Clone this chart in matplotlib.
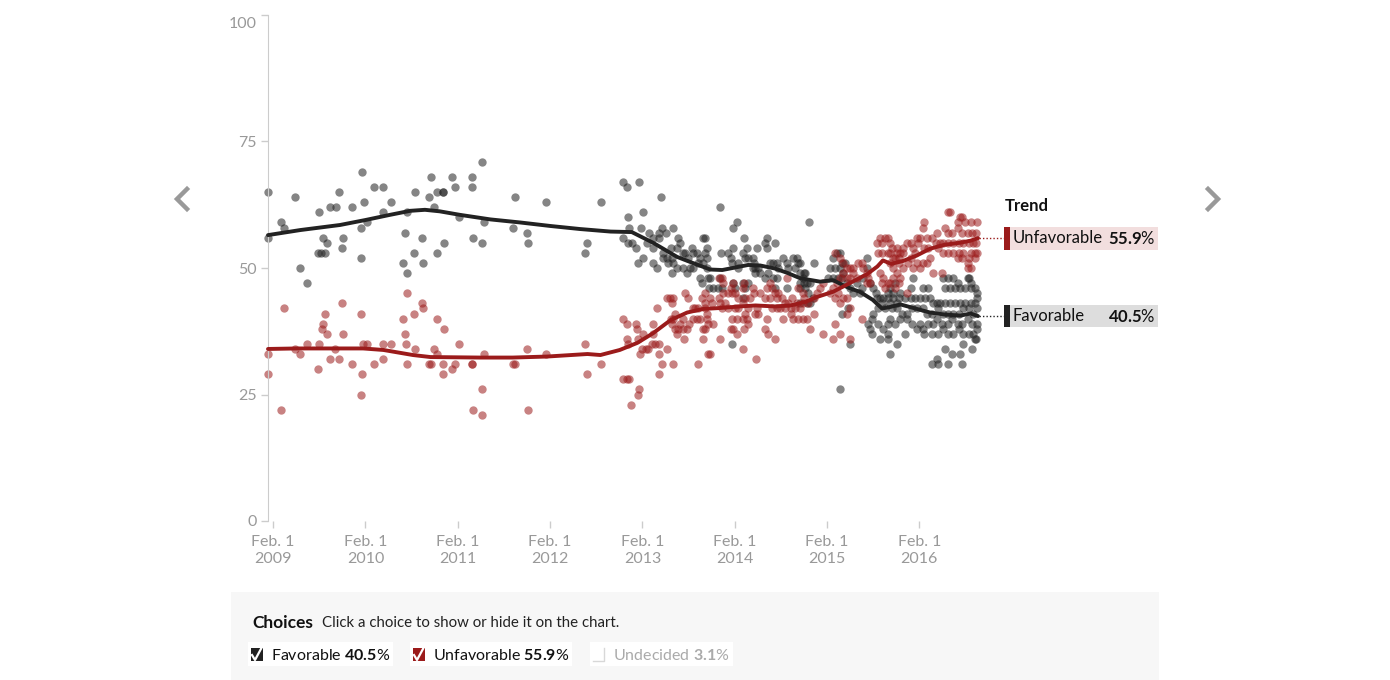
import matplotlib as mpl
mpl.use('Agg')
import matplotlib.pyplot as plt
import matplotlib.transforms as mtransforms
from matplotlib.lines import Line2D
from matplotlib.patches import Rectangle

W, H = 1390, 680
FONT = 'Lato'

mpl.rcParams.update({
    'font.family': FONT,
    'mathtext.fontset': 'custom',
    'mathtext.rm': 'Lato',
    'mathtext.bf': 'Lato:bold',
})

FAV_COLOR = '#222222'
UNFAV_COLOR = '#9b1b1b'
TICK_COLOR = '#999999'

# poll results, decimal year of field date and percent
FAV_DATE = [
    2009.03, 2009.03, 2009.17, 2009.20, 2009.32, 2009.38, 2009.45, 2009.58, 2009.57, 2009.60,
    2009.65, 2009.63, 2009.67, 2009.70, 2009.77, 2009.80, 2009.83, 2009.84, 2009.94, 2010.05,
    2010.04, 2010.04, 2010.07, 2010.10, 2010.18, 2010.28, 2010.28, 2010.36, 2010.49, 2010.51,
    2010.54, 2010.54, 2010.61, 2010.62, 2010.70, 2010.71, 2010.77, 2010.80, 2010.83, 2010.86,
    2010.93, 2010.93, 2010.86, 2010.94, 2011.02, 2011.05, 2011.10, 2011.24, 2011.24, 2011.25,
    2011.35, 2011.35, 2011.37, 2011.68, 2011.70, 2011.84, 2011.85, 2012.04, 2012.46, 2012.49,
    2012.64,
    2012.88, 2012.92, 2013.05, 2013.29, 2012.93, 2013.09, 2012.94, 2012.88, 2012.93, 2012.97,
    2013.07, 2013.02, 2013.13, 2013.16, 2013.20, 2013.20, 2013.27, 2013.30, 2013.34, 2013.42,
    2013.27, 2013.09, 2013.04, 2013.20, 2013.24, 2013.31, 2013.35, 2013.41, 2013.36, 2013.42,
    2013.31, 2013.39, 2013.47, 2013.49, 2013.46, 2013.52, 2013.55, 2013.58, 2013.62, 2013.63,
    2013.68, 2013.71, 2013.74, 2013.76, 2013.79, 2013.79, 2013.69, 2013.63, 2013.60, 2013.57,
    2013.53, 2013.46, 2013.41, 2013.71, 2013.73, 2013.80, 2013.81, 2013.74,
    2013.93, 2014.11, 2014.07, 2014.19, 2014.43, 2014.41, 2014.44, 2014.52, 2014.33, 2014.22,
    2013.76, 2013.94, 2014.01, 2014.07, 2014.04, 2014.06, 2014.12, 2014.18, 2014.20, 2014.23,
    2014.28, 2014.29, 2014.12, 2014.28, 2014.31, 2014.34, 2014.36, 2014.31, 2014.45, 2014.47,
    2014.50, 2014.54, 2014.55, 2014.61, 2014.65, 2014.66, 2014.72, 2014.76, 2014.77, 2014.74,
    2014.79, 2014.83, 2014.82, 2014.79, 2014.65, 2014.52, 2014.54, 2014.50, 2014.41, 2014.23,
    2014.20, 2014.17, 2014.09, 2014.07, 2013.93, 2013.95, 2013.85, 2013.82, 2013.79, 2013.90,
    2014.17, 2014.06,
    2014.89, 2015.23, 2014.79, 2014.85, 2014.94, 2014.83, 2014.87, 2014.90, 2014.79, 2014.85,
    2014.88, 2014.90, 2014.79, 2015.15, 2015.19, 2015.23, 2015.25, 2015.28, 2015.12, 2015.17,
    2015.23, 2015.10, 2015.15, 2015.20, 2015.25, 2015.26, 2015.30, 2015.33, 2015.37, 2015.41,
    2015.44, 2015.46, 2015.52, 2015.52, 2015.47, 2015.55, 2015.58, 2015.61, 2015.63, 2015.66,
    2015.69, 2015.74, 2015.75, 2015.77, 2015.80, 2015.84, 2015.86, 2015.88, 2015.68, 2015.71,
    2015.64, 2015.58, 2015.57, 2015.53, 2015.55, 2015.57, 2015.64, 2015.69, 2015.74, 2015.75,
    2015.66, 2015.75, 2015.84, 2015.77, 2015.33, 2015.25, 2015.31, 2014.87, 2014.93,
    2016.34, 2016.40, 2016.45, 2016.50, 2016.61, 2016.69, 2016.36, 2016.42, 2016.47, 2016.53,
    2016.58, 2016.64, 2016.71, 2016.71, 2016.18, 2016.12, 2015.99, 2016.02, 2015.82, 2015.77,
    2015.80, 2015.93, 2015.99, 2016.04, 2016.09, 2016.15, 2016.20, 2016.23, 2016.28, 2016.31,
    2016.36, 2016.42, 2016.47, 2016.53, 2016.58, 2016.64, 2016.69, 2016.71, 2016.67, 2016.62,
    2016.56, 2016.51, 2016.45, 2016.40, 2016.34, 2016.29, 2016.22, 2016.17, 2016.12, 2016.06,
    2016.01, 2015.95, 2015.90, 2015.84, 2015.79, 2015.77, 2015.82, 2015.88, 2015.95, 2016.01,
    2016.06, 2016.12, 2016.13, 2016.09, 2016.18, 2016.23, 2016.28, 2016.33, 2016.39, 2016.44,
    2016.50, 2016.55, 2016.61, 2016.66, 2016.71, 2016.71, 2016.67, 2016.62, 2016.56, 2016.51,
    2016.45, 2016.40, 2016.34, 2016.29, 2016.22, 2016.69, 2016.70, 2016.66, 2016.56, 2016.53,
    2016.44, 2016.36, 2016.28, 2016.29, 2016.22, 2016.39, 2016.55, 2015.93, 2016.62, 2016.64,
]
FAV_VALUE = [
    65, 56, 59, 58, 64, 50, 47, 61, 53, 53,
    53, 56, 55, 62, 62, 65, 54, 56, 62, 69,
    58, 52, 63, 59, 66, 66, 61, 63, 51, 57,
    61, 49, 53, 65, 56, 51, 64, 68, 62, 65,
    65, 65, 53, 55, 68, 66, 60, 68, 66, 56,
    71, 55, 59, 58, 64, 57, 55, 63, 53, 55,
    63,
    67, 66, 67, 64, 60, 61, 58, 56, 55, 55,
    58, 54, 55, 57, 56, 54, 57, 58, 57, 58,
    56, 52, 51, 51, 50, 52, 52, 52, 51, 51,
    53, 54, 56, 55, 54, 53, 53, 52, 54, 53,
    53, 52, 56, 56, 54, 52, 51, 50, 50, 49,
    50, 50, 49, 48, 47, 48, 46, 51,
    62, 59, 58, 56, 56, 55, 54, 55, 54, 54,
    53, 53, 53, 54, 52, 51, 51, 53, 52, 52,
    52, 51, 50, 50, 50, 50, 49, 49, 49, 51,
    51, 51, 50, 52, 51, 50, 52, 52, 51, 50,
    49, 49, 48, 47, 46, 46, 48, 48, 48, 47,
    46, 47, 46, 47, 48, 46, 46, 48, 50, 46,
    44, 35,
    59, 26, 51, 49, 51, 47, 47, 47, 46, 46,
    45, 43, 43, 52, 53, 53, 51, 51, 50, 50,
    50, 48, 48, 48, 48, 49, 47, 46, 45, 47,
    45, 46, 52, 50, 48, 47, 46, 45, 44, 44,
    44, 45, 44, 43, 44, 43, 44, 45, 43, 42,
    42, 41, 40, 39, 38, 37, 39, 38, 39, 37,
    36, 36, 35, 33, 35, 41, 42, 43, 44,
    48, 48, 48, 47, 48, 46, 46, 46, 46, 46,
    46, 46, 45, 44, 46, 46, 46, 48, 47, 46,
    45, 44, 44, 44, 44, 44, 44, 43, 43, 43,
    43, 43, 43, 43, 43, 43, 43, 42, 41, 42,
    42, 41, 41, 41, 41, 42, 41, 41, 42, 42,
    42, 41, 41, 42, 42, 40, 39, 40, 40, 39,
    38, 38, 37, 39, 39, 39, 40, 39, 39, 40,
    39, 39, 40, 39, 39, 38, 37, 37, 37, 38,
    37, 37, 38, 37, 37, 36, 36, 34, 35, 33,
    33, 34, 32, 31, 31, 31, 31, 37, 48, 47,
]

UNFAV_DATE = [
    2009.03, 2009.03, 2009.17, 2009.20, 2009.32, 2009.38, 2009.45, 2009.57, 2009.58, 2009.62,
    2009.63, 2009.65, 2009.67, 2009.70, 2009.76, 2009.80, 2009.83, 2009.84, 2009.94, 2010.04,
    2010.05, 2010.04, 2010.06, 2010.10, 2010.18, 2010.28, 2010.36, 2010.28, 2010.49, 2010.51,
    2010.53, 2010.54, 2010.54, 2010.61, 2010.62, 2010.70, 2010.71, 2010.77, 2010.80, 2010.83,
    2010.86, 2010.86, 2010.93, 2010.93, 2010.94, 2011.02, 2011.05, 2011.10, 2011.24, 2011.24,
    2011.25, 2011.35, 2011.35, 2011.37, 2011.68, 2011.70, 2011.84, 2011.85, 2012.04, 2012.46,
    2012.49, 2012.64,
    2012.88, 2012.92, 2012.92, 2012.93, 2013.02, 2013.03, 2013.04, 2013.09, 2013.08, 2013.12,
    2013.15, 2013.06, 2013.20, 2013.20, 2013.24, 2013.19, 2013.22, 2013.26, 2013.27, 2013.30,
    2013.35, 2013.27, 2013.35, 2013.38, 2013.41, 2013.42, 2013.39, 2013.42, 2013.44, 2013.41,
    2013.44, 2013.47, 2013.52, 2013.49, 2013.46, 2013.53, 2013.57, 2013.59, 2013.55, 2013.58,
    2013.63, 2013.66, 2013.69, 2013.68, 2013.73, 2013.76, 2013.79, 2013.74, 2013.71, 2013.63,
    2013.42, 2013.54, 2013.69, 2013.74, 2013.80, 2012.88, 2012.92, 2012.94, 2013.05, 2013.04,
    2012.96,
    2013.91, 2013.95, 2013.96, 2014.07, 2014.04, 2014.17, 2014.19, 2014.28, 2014.44, 2014.47,
    2014.49, 2014.52, 2014.65, 2014.77, 2014.82, 2013.76, 2013.82, 2013.91, 2013.96, 2014.01,
    2014.06, 2014.09, 2014.12, 2013.98, 2013.93, 2013.84, 2013.76, 2013.79, 2013.85, 2013.80,
    2013.76, 2013.95, 2014.01, 2014.09, 2014.12, 2014.17, 2014.20, 2014.25, 2014.29, 2014.36,
    2014.41, 2014.47, 2014.54, 2014.60, 2014.55, 2014.63, 2014.66, 2014.71, 2014.76, 2014.82,
    2014.83, 2014.49, 2014.54, 2014.58, 2014.63, 2014.69, 2014.74, 2014.79, 2014.20, 2014.31,
    2014.34, 2014.23, 2014.33, 2014.17, 2014.22, 2014.23, 2014.06, 2014.11, 2014.04, 2014.07,
    2014.19, 2014.11, 2014.44, 2014.61, 2014.69, 2014.72, 2014.77, 2014.41, 2014.45, 2014.52,
    2013.93, 2014.18, 2013.82, 2014.32,
    2015.63, 2015.66, 2015.71, 2015.75, 2015.77, 2015.68, 2015.64, 2015.68, 2015.74, 2015.79,
    2015.84, 2015.88, 2015.82, 2015.86, 2015.17, 2015.23, 2015.26, 2015.30, 2015.33, 2015.37,
    2015.42, 2015.46, 2015.47, 2015.52, 2015.53, 2015.55, 2015.52, 2015.41, 2015.37, 2015.33,
    2015.30, 2015.26, 2015.23, 2015.19, 2015.15, 2015.20, 2015.26, 2015.30, 2015.17, 2015.12,
    2015.04, 2015.01, 2014.98, 2014.94, 2014.88, 2015.66, 2015.69, 2015.68, 2015.71, 2015.75,
    2015.80, 2015.84, 2015.86, 2015.33, 2015.23, 2015.30, 2014.82, 2014.87, 2014.94, 2014.90,
    2015.04, 2015.17, 2015.15, 2015.23, 2015.33, 2015.46,
    2016.39, 2016.42, 2016.53, 2016.55, 2016.50, 2016.58, 2016.64, 2016.71, 2016.13, 2016.12,
    2016.36, 2016.40, 2016.44, 2016.50, 2016.55, 2016.61, 2016.66, 2016.70, 2016.28, 2016.22,
    2016.17, 2016.09, 2016.06, 2015.99, 2015.95, 2015.84, 2015.91, 2016.02, 2016.07, 2016.13,
    2016.18, 2016.26, 2016.31, 2016.34, 2016.40, 2016.45, 2016.51, 2016.56, 2016.62, 2016.67,
    2016.70, 2016.29, 2016.34, 2016.40, 2016.45, 2016.51, 2016.56, 2016.64, 2016.69, 2016.71,
    2016.50, 2016.55, 2016.62, 2016.69, 2016.61, 2015.77, 2015.80, 2015.86, 2015.91, 2015.99,
    2016.04, 2016.06, 2016.12, 2016.17, 2016.20, 2016.09, 2016.02, 2015.96, 2015.91, 2015.80,
    2015.77, 2016.23, 2016.33, 2016.61, 2016.64, 2015.95, 2015.82, 2015.77, 2015.88,
]
UNFAV_VALUE = [
    33, 29, 22, 42, 34, 33, 35, 30, 35, 38,
    39, 41, 37, 32, 34, 32, 43, 37, 31, 41,
    29, 25, 35, 35, 31, 35, 35, 32, 40, 37,
    35, 45, 31, 41, 34, 43, 42, 31, 31, 34,
    40, 33, 31, 29, 38, 30, 31, 35, 31, 31,
    22, 26, 21, 33, 31, 31, 34, 22, 33, 35,
    29, 31,
    40, 39, 36, 35, 39, 38, 36, 37, 34, 34,
    34, 33, 39, 37, 42, 35, 35, 35, 33, 31,
    34, 29, 44, 44, 43, 44, 40, 40, 41, 39,
    38, 38, 38, 39, 37, 40, 38, 39, 45, 44,
    42, 42, 42, 40, 44, 43, 41, 38, 40, 40,
    31, 36, 31, 36, 33, 28, 28, 28, 26, 25,
    23,
    48, 48, 47, 47, 46, 46, 47, 46, 46, 47,
    46, 45, 48, 46, 45, 45, 44, 44, 45, 45,
    45, 45, 44, 43, 43, 43, 42, 40, 39, 39,
    38, 42, 42, 42, 42, 43, 44, 44, 45, 45,
    44, 44, 44, 44, 45, 43, 43, 44, 43, 43,
    44, 42, 42, 42, 42, 42, 42, 42, 41, 41,
    41, 42, 42, 40, 40, 39, 40, 40, 38, 38,
    38, 37, 40, 40, 41, 40, 40, 38, 37, 36,
    36, 34, 33, 32,
    55, 56, 56, 56, 55, 55, 53, 53, 53, 54,
    53, 53, 52, 51, 53, 52, 51, 50, 50, 50,
    51, 51, 50, 49, 48, 47, 47, 48, 49, 48,
    48, 49, 48, 47, 46, 45, 44, 44, 44, 45,
    47, 46, 45, 44, 43, 49, 48, 47, 46, 47,
    48, 49, 47, 42, 43, 41, 40, 40, 41, 38,
    37, 39, 36, 37, 36, 40,
    61, 61, 60, 60, 59, 59, 59, 59, 59, 58,
    58, 57, 57, 58, 57, 57, 57, 57, 57, 56,
    56, 56, 56, 55, 55, 54, 54, 54, 55, 54,
    54, 55, 55, 55, 55, 55, 55, 55, 55, 55,
    55, 54, 53, 53, 53, 53, 53, 53, 53, 53,
    52, 52, 52, 52, 51, 53, 52, 52, 53, 52,
    53, 51, 51, 51, 52, 50, 50, 51, 50, 50,
    51, 49, 49, 50, 50, 45, 46, 47, 48,
]

# smoothed trend estimates
FAV_TREND_DATE = [
    2009.03, 2009.38, 2009.81, 2010.09, 2010.35, 2010.57, 2010.73, 2010.89, 2011.11, 2011.44,
    2011.76, 2012.09, 2012.41, 2012.74, 2012.97, 2013.20, 2013.46, 2013.63, 2013.82, 2013.95,
    2014.09, 2014.23, 2014.36, 2014.52, 2014.66, 2014.79, 2015.01, 2015.15, 2015.26, 2015.33,
    2015.44, 2015.58, 2015.68, 2015.77, 2015.88, 2016.04, 2016.20, 2016.36, 2016.53, 2016.64,
    2016.72,
]
FAV_TREND = [
    56.5, 57.5, 58.5, 59.5, 60.5, 61.3, 61.5, 61.2, 60.5, 59.6,
    59.0, 58.3, 57.7, 57.2, 57.1, 55.0, 52.2, 51.0, 49.7, 49.6,
    50.1, 50.6, 50.5, 49.9, 49.0, 48.0, 47.3, 47.6, 46.6, 46.0,
    45.3, 43.7, 42.0, 42.3, 42.8, 42.0, 41.2, 40.8, 40.6, 41.0,
    40.5,
]
UNFAV_TREND_DATE = [
    2009.03, 2009.34, 2010.06, 2010.28, 2010.60, 2010.79, 2011.33, 2011.68, 2012.05, 2012.49,
    2012.63, 2012.84, 2013.03, 2013.20, 2013.39, 2013.57, 2013.74, 2013.93, 2014.14, 2014.31,
    2014.52, 2014.69, 2014.85, 2014.98, 2015.15, 2015.33, 2015.52, 2015.63, 2015.69, 2015.78,
    2015.91, 2016.06, 2016.20, 2016.36, 2016.53, 2016.64, 2016.72,
]
UNFAV_TREND = [
    34.0, 34.1, 34.1, 33.8, 32.8, 32.4, 32.3, 32.3, 32.5, 33.0,
    32.8, 33.8, 35.2, 37.1, 39.7, 41.2, 41.9, 42.1, 42.4, 42.6,
    42.4, 42.6, 43.3, 44.3, 45.3, 47.0, 48.8, 50.3, 51.5, 50.8,
    51.4, 52.5, 53.8, 54.6, 55.0, 55.4, 55.9,
]

FAV_LATEST = 40.5
UNFAV_LATEST = 55.9
UNDECIDED_LATEST = 3.1

X_TICKS = [2009.085, 2010.085, 2011.085, 2012.085, 2013.085, 2014.085, 2015.085, 2016.085]
X_TICK_YEARS = ['2009', '2010', '2011', '2012', '2013', '2014', '2015', '2016']
Y_TICKS = [0, 25, 50, 75, 100]
X_LIMITS = (2009.03, 2016.72)


def fx(x):
    return x / W


def fy(y):
    return 1 - y / H


def pct(value):
    # bold number followed by a regular percent sign, as one text
    return rf'$\mathbf{{{value:.1f}}}$%'


def style_axis(fig, ax):
    for side in ('top', 'right', 'bottom'):
        ax.spines[side].set_visible(False)
    ax.spines['left'].set_color('#cccccc')
    ax.set_xlim(*X_LIMITS)
    ax.set_ylim(0, 100)
    ax.set_yticks(Y_TICKS)
    ax.set_xticks(X_TICKS)
    ax.set_xticklabels([f'Feb. 1\n{y}' for y in X_TICK_YEARS], linespacing=1.3)
    ax.tick_params(axis='both', colors='#cccccc', labelcolor=TICK_COLOR, labelsize=11.5,
                   length=5, width=1)
    ax.tick_params(axis='x', pad=5)
    ax.tick_params(axis='y', pad=3)
    # the top label sits a little below its tick, as in the original
    top = ax.get_yticklabels()[-1]
    top.set_transform(top.get_transform() + mtransforms.ScaledTranslation(0, -7 / 100, fig.dpi_scale_trans))


def main():
    fig = plt.figure(figsize=(W / 100, H / 100), dpi=100)
    ax = fig.add_axes([fx(268), fy(521), (978 - 268) / W, (521 - 15) / H])

    ax.scatter(FAV_DATE, FAV_VALUE, s=36, color=FAV_COLOR, alpha=0.55, linewidths=0,
               clip_on=False, zorder=2)
    ax.scatter(UNFAV_DATE, UNFAV_VALUE, s=36, color=UNFAV_COLOR, alpha=0.55, linewidths=0,
               clip_on=False, zorder=2)
    ax.plot(FAV_TREND_DATE, FAV_TREND, color=FAV_COLOR, lw=2.8, solid_capstyle='round',
            solid_joinstyle='round', clip_on=False, zorder=4)
    ax.plot(UNFAV_TREND_DATE, UNFAV_TREND, color=UNFAV_COLOR, lw=2.8, solid_capstyle='round',
            solid_joinstyle='round', clip_on=False, zorder=5)
    style_axis(fig, ax)

    # trend labels on the right
    blend = mtransforms.blended_transform_factory(fig.transFigure, ax.transData)
    fig.text(fx(1005), fy(206), 'Trend', fontsize=12, fontweight='bold', color='#111111',
             va='center', ha='left')
    for name, value, color, bg in (
        ('Unfavorable', UNFAV_TREND[-1], UNFAV_COLOR, '#f2dede'),
        ('Favorable', FAV_TREND[-1], FAV_COLOR, '#dddddd'),
    ):
        ax.add_line(Line2D([fx(979), fx(1004)], [value, value], transform=blend, color=color,
                           lw=1, ls=(0, (1, 1.5)), clip_on=False))
        ax.add_patch(Rectangle((fx(1004), value - 2.25), (1158 - 1004) / W, 4.5,
                               transform=blend, facecolor=bg, edgecolor='none', clip_on=False))
        ax.add_patch(Rectangle((fx(1004), value - 2.25), 6 / W, 4.5,
                               transform=blend, facecolor=color, edgecolor='none', clip_on=False))
        fig.text(fx(1013), value, name, transform=blend, fontsize=12, color='#111111',
                 va='center', ha='left')
        fig.text(fx(1156), value, pct(value), transform=blend, fontsize=12, color='#111111',
                 va='center', ha='right')

    # navigation arrows
    for pts in ([(187, 189), (177, 199), (187, 209)], [(1208, 189), (1218, 199), (1208, 209)]):
        fig.add_artist(Line2D([fx(p[0]) for p in pts], [fy(p[1]) for p in pts],
                              color='#999999', lw=3.2, solid_joinstyle='miter'))

    # choices panel
    fig.add_artist(Rectangle((fx(231), fy(680)), (1159 - 231) / W, 88 / H,
                             transform=fig.transFigure, facecolor='#f7f7f7', edgecolor='none'))
    fig.text(fx(252), fy(623), 'Choices', fontsize=12.5, fontweight='bold', color='#111111',
             va='center', ha='left')
    fig.text(fx(322), fy(623), 'Click a choice to show or hide it on the chart.', fontsize=10.8,
             color='#222222', va='center', ha='left')

    items = (
        ('Favorable', FAV_LATEST, FAV_COLOR, '#111111', 248, 393),
        ('Unfavorable', UNFAV_LATEST, UNFAV_COLOR, '#111111', 410, 572),
        ('Undecided', UNDECIDED_LATEST, None, '#aaaaaa', 590, 733),
    )
    for name, value, color, text_color, x0, x1 in items:
        fig.add_artist(Rectangle((fx(x0), fy(666)), (x1 - x0) / W, 24 / H,
                                 transform=fig.transFigure, facecolor='white', edgecolor='none'))
        if color is None:
            fig.add_artist(Line2D([fx(x0 + 3), fx(x0 + 14), fx(x0 + 14)],
                                  [fy(661), fy(661), fy(648)], color='#d8d8d8', lw=1))
        else:
            fig.add_artist(Rectangle((fx(x0 + 3), fy(661)), 12 / W, 13 / H,
                                     transform=fig.transFigure, facecolor=color, edgecolor='none'))
            fig.add_artist(Line2D([fx(x0 + 4), fx(x0 + 7), fx(x0 + 14)],
                                  [fy(655), fy(660), fy(647)], color='white', lw=1.6))
        fig.text(fx(x0 + 23), fy(655), f'{name} {pct(value)}', fontsize=11.5, color=text_color,
                 va='center', ha='left')

    fig.savefig('out.png', dpi=100)


if __name__ == '__main__':
    main()
